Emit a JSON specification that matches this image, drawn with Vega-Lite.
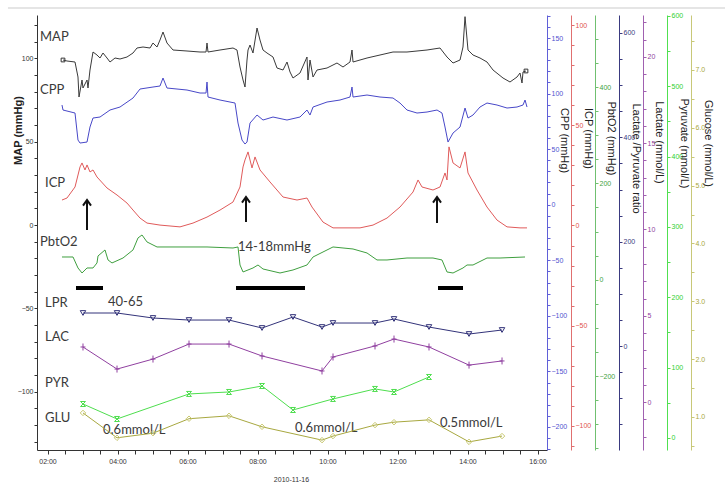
{
"$schema": "https://vega.github.io/schema/vega-lite/v6.json",
"width": 510, "height": 435,
"autosize": {"type": "none"},
"padding": {"left": 37, "top": 15, "right": 178, "bottom": 44},
"background": "white",
"config": {"view": {"stroke": null}, "axis": {"grid": false, "labelFont": "Liberation Sans Narrow, Liberation Sans", "labelFontSize": 7, "titleFont": "Liberation Sans", "titleFontSize": 11, "titleFontWeight": "normal", "titleColor": "#222", "labelOverlap": false, "labelFlush": false, "tickSize": 3, "labelPadding": 1}},
"datasets": {
"map": [{"h":2.443,"v":99.0},{"h":2.557,"v":98.4},{"h":2.786,"v":97.8},{"h":2.871,"v":88.8},{"h":2.9,"v":76.8},{"h":2.986,"v":87.0},{"h":3.014,"v":82.2},{"h":3.129,"v":87.0},{"h":3.157,"v":82.2},{"h":3.214,"v":93.0},{"h":3.3,"v":103.8},{"h":3.414,"v":102.0},{"h":3.5,"v":100.2},{"h":3.586,"v":103.2},{"h":3.7,"v":100.2},{"h":3.786,"v":97.8},{"h":3.929,"v":100.2},{"h":4.071,"v":99.6},{"h":4.271,"v":100.8},{"h":4.443,"v":103.2},{"h":4.557,"v":106.2},{"h":4.729,"v":106.8},{"h":4.929,"v":106.2},{"h":5.014,"v":109.2},{"h":5.129,"v":106.8},{"h":5.214,"v":111.0},{"h":5.3,"v":115.8},{"h":5.414,"v":109.2},{"h":5.586,"v":105.0},{"h":5.986,"v":104.4},{"h":6.357,"v":103.8},{"h":6.529,"v":103.8},{"h":6.557,"v":109.2},{"h":6.586,"v":103.8},{"h":6.929,"v":105.0},{"h":7.3,"v":106.2},{"h":7.414,"v":105.0},{"h":7.5,"v":94.8},{"h":7.586,"v":87.0},{"h":7.643,"v":82.8},{"h":7.7,"v":99.0},{"h":7.729,"v":105.0},{"h":7.786,"v":108.0},{"h":7.871,"v":103.2},{"h":7.986,"v":118.2},{"h":8.071,"v":111.0},{"h":8.157,"v":105.0},{"h":8.271,"v":103.2},{"h":8.443,"v":100.8},{"h":8.557,"v":94.2},{"h":8.729,"v":93.0},{"h":8.843,"v":97.8},{"h":8.929,"v":91.8},{"h":9.014,"v":88.2},{"h":9.214,"v":91.2},{"h":9.414,"v":100.8},{"h":9.443,"v":87.0},{"h":9.5,"v":99.0},{"h":9.586,"v":88.8},{"h":9.7,"v":93.0},{"h":9.986,"v":94.2},{"h":10.271,"v":97.2},{"h":10.443,"v":94.8},{"h":10.643,"v":97.8},{"h":10.7,"v":105.0},{"h":10.729,"v":97.8},{"h":11.129,"v":100.2},{"h":11.5,"v":102.0},{"h":11.871,"v":103.8},{"h":12.271,"v":103.8},{"h":12.843,"v":105.0},{"h":13.214,"v":106.2},{"h":13.414,"v":100.8},{"h":13.586,"v":97.2},{"h":13.786,"v":99.0},{"h":13.871,"v":106.8},{"h":13.929,"v":125.0},{"h":14.014,"v":105.0},{"h":14.157,"v":102.0},{"h":14.357,"v":100.2},{"h":14.557,"v":97.8},{"h":14.729,"v":93.0},{"h":15.014,"v":88.2},{"h":15.214,"v":85.8},{"h":15.414,"v":88.8},{"h":15.5,"v":91.2},{"h":15.557,"v":85.2},{"h":15.586,"v":91.8},{"h":15.671,"v":92.4}],
"mapends": [{"h":2.443,"v":99.0},{"h":15.671,"v":92.4}],
"frame": [{"h":0.87,"h2":21.4,"v":130.2}],
"cpp": [{"h":2.414,"v":89.7},{"h":2.443,"v":85.2},{"h":2.786,"v":82.5},{"h":2.871,"v":58.2},{"h":2.929,"v":55.5},{"h":3.129,"v":56.4},{"h":3.214,"v":69.9},{"h":3.3,"v":78.0},{"h":3.5,"v":78.9},{"h":3.786,"v":85.2},{"h":4.071,"v":87.9},{"h":4.443,"v":96.0},{"h":4.643,"v":104.1},{"h":5.014,"v":105.9},{"h":5.214,"v":106.8},{"h":5.3,"v":114.0},{"h":5.414,"v":105.0},{"h":5.986,"v":103.2},{"h":6.357,"v":100.5},{"h":6.529,"v":100.5},{"h":6.557,"v":110.4},{"h":6.586,"v":96.9},{"h":6.929,"v":94.2},{"h":7.357,"v":91.5},{"h":7.443,"v":73.5},{"h":7.557,"v":58.2},{"h":7.643,"v":54.6},{"h":7.7,"v":56.4},{"h":7.786,"v":73.5},{"h":7.986,"v":80.7},{"h":8.157,"v":76.2},{"h":8.443,"v":78.9},{"h":8.843,"v":76.2},{"h":9.214,"v":78.9},{"h":9.414,"v":85.2},{"h":9.5,"v":80.7},{"h":9.586,"v":87.9},{"h":9.986,"v":92.4},{"h":10.357,"v":94.2},{"h":10.643,"v":96.9},{"h":10.7,"v":105.9},{"h":10.729,"v":96.9},{"h":11.129,"v":98.7},{"h":11.5,"v":96.9},{"h":11.871,"v":96.0},{"h":12.071,"v":91.5},{"h":12.271,"v":85.2},{"h":12.557,"v":82.5},{"h":12.843,"v":83.4},{"h":13.129,"v":85.2},{"h":13.271,"v":82.5},{"h":13.357,"v":69.9},{"h":13.443,"v":56.4},{"h":13.586,"v":64.5},{"h":13.786,"v":69.9},{"h":13.929,"v":87.0},{"h":14.014,"v":78.0},{"h":14.157,"v":80.7},{"h":14.357,"v":87.9},{"h":14.557,"v":91.5},{"h":14.843,"v":89.7},{"h":15.129,"v":87.0},{"h":15.414,"v":87.9},{"h":15.586,"v":89.7},{"h":15.643,"v":94.2},{"h":15.7,"v":87.9}],
"icp": [{"h":2.414,"v":12.7},{"h":2.557,"v":13.7},{"h":2.786,"v":19.2},{"h":2.929,"v":29.2},{"h":2.986,"v":31.2},{"h":3.071,"v":27.7},{"h":3.129,"v":30.2},{"h":3.214,"v":26.7},{"h":3.3,"v":27.7},{"h":3.414,"v":24.2},{"h":3.7,"v":18.7},{"h":3.986,"v":15.2},{"h":4.271,"v":11.2},{"h":4.443,"v":7.7},{"h":4.643,"v":3.7},{"h":4.843,"v":1.2},{"h":5.214,"v":0.2},{"h":5.786,"v":-0.7},{"h":6.157,"v":1.2},{"h":6.557,"v":4.2},{"h":6.929,"v":7.7},{"h":7.3,"v":11.7},{"h":7.5,"v":19.2},{"h":7.586,"v":29.2},{"h":7.643,"v":32.7},{"h":7.729,"v":36.7},{"h":7.843,"v":28.7},{"h":7.929,"v":34.2},{"h":8.071,"v":27.7},{"h":8.357,"v":21.7},{"h":8.729,"v":14.2},{"h":9.129,"v":12.7},{"h":9.414,"v":13.7},{"h":9.557,"v":9.2},{"h":9.871,"v":1.7},{"h":10.157,"v":-1.2},{"h":10.929,"v":-1.2},{"h":11.3,"v":0.2},{"h":11.7,"v":3.7},{"h":12.071,"v":9.2},{"h":12.443,"v":16.7},{"h":12.586,"v":22.7},{"h":12.7,"v":19.2},{"h":13.014,"v":17.7},{"h":13.214,"v":19.2},{"h":13.357,"v":26.2},{"h":13.414,"v":22.7},{"h":13.471,"v":39.2},{"h":13.586,"v":31.2},{"h":13.786,"v":28.7},{"h":13.929,"v":36.7},{"h":14.014,"v":26.2},{"h":14.271,"v":17.7},{"h":14.557,"v":9.2},{"h":14.843,"v":2.7},{"h":15.129,"v":-0.7},{"h":15.5,"v":-1.2},{"h":15.7,"v":-1.2}],
"pbto2": [{"h":2.414,"v":47.1},{"h":2.729,"v":47.1},{"h":2.871,"v":24.3},{"h":2.986,"v":13.9},{"h":3.129,"v":24.3},{"h":3.3,"v":24.3},{"h":3.414,"v":34.7},{"h":3.443,"v":49.2},{"h":3.643,"v":61.7},{"h":3.729,"v":40.9},{"h":3.843,"v":34.7},{"h":4.157,"v":45.0},{"h":4.443,"v":61.7},{"h":4.586,"v":86.6},{"h":4.7,"v":92.8},{"h":4.843,"v":78.3},{"h":5.129,"v":67.9},{"h":5.586,"v":67.9},{"h":6.557,"v":67.9},{"h":7.3,"v":65.8},{"h":7.443,"v":67.9},{"h":7.5,"v":30.5},{"h":7.586,"v":16.0},{"h":7.871,"v":24.3},{"h":8.014,"v":30.5},{"h":8.157,"v":22.2},{"h":8.643,"v":13.9},{"h":9.014,"v":20.1},{"h":9.414,"v":30.5},{"h":9.586,"v":47.1},{"h":10.157,"v":67.9},{"h":10.729,"v":63.7},{"h":11.129,"v":55.4},{"h":11.414,"v":40.9},{"h":11.7,"v":40.9},{"h":12.271,"v":45.0},{"h":13.014,"v":45.0},{"h":13.271,"v":40.9},{"h":13.414,"v":16.0},{"h":13.586,"v":13.9},{"h":13.871,"v":24.3},{"h":13.986,"v":30.5},{"h":14.157,"v":30.5},{"h":14.557,"v":45.0},{"h":14.929,"v":45.0},{"h":15.643,"v":47.1}],
"lpr": [{"h":3.014,"v":63.3},{"h":3.986,"v":63.3},{"h":5.014,"v":53.7},{"h":6.043,"v":49.8},{"h":7.186,"v":49.8},{"h":8.129,"v":34.5},{"h":9.014,"v":55.6},{"h":9.843,"v":36.4},{"h":10.157,"v":44.1},{"h":11.357,"v":44.1},{"h":11.9,"v":51.8},{"h":12.9,"v":36.4},{"h":14.043,"v":23.0},{"h":14.986,"v":30.7}],
"lac": [{"h":3.014,"v":3.19},{"h":3.986,"v":1.91},{"h":5.014,"v":2.49},{"h":6.043,"v":3.36},{"h":7.186,"v":3.36},{"h":8.129,"v":2.67},{"h":9.843,"v":1.80},{"h":10.157,"v":2.61},{"h":11.357,"v":3.25},{"h":11.9,"v":3.65},{"h":12.9,"v":3.19},{"h":14.043,"v":2.14},{"h":14.986,"v":2.38}],
"pyr": [{"h":3.014,"v":48.3},{"h":3.986,"v":27.0},{"h":6.043,"v":62.6},{"h":7.186,"v":65.4},{"h":8.129,"v":73.9},{"h":9.014,"v":39.8},{"h":10.157,"v":55.5},{"h":11.357,"v":69.7},{"h":11.9,"v":65.4},{"h":12.9,"v":86.7}],
"glu": [{"h":3.014,"v":1.07},{"h":3.986,"v":0.64},{"h":5.014,"v":0.72},{"h":6.043,"v":0.97},{"h":7.186,"v":1.02},{"h":8.129,"v":0.83},{"h":9.843,"v":0.60},{"h":10.157,"v":0.67},{"h":11.357,"v":0.86},{"h":11.9,"v":0.91},{"h":12.9,"v":0.95},{"h":14.043,"v":0.57},{"h":14.986,"v":0.67}],
"labels": [{"h":1.786,"v":112.8,"t":"MAP"},{"h":1.786,"v":81.0,"t":"CPP"},{"h":1.929,"v":25.2,"t":"ICP"},{"h":1.786,"v":-10.2,"t":"PbtO2"},{"h":1.929,"v":-46.8,"t":"LPR"},{"h":3.729,"v":-46.2,"t":"40-65"},{"h":1.929,"v":-67.2,"t":"LAC"},{"h":1.929,"v":-94.8,"t":"PYR"},{"h":1.929,"v":-115.8,"t":"GLU"},{"h":3.586,"v":-123.0,"t":"0.6mmol/L"},{"h":7.443,"v":-13.2,"t":"14-18mmHg"},{"h":9.071,"v":-121.8,"t":"0.6mmol/L"},{"h":13.214,"v":-118.8,"t":"0.5mmol/L"}],
"bars": [{"h":2.814,"h2":3.586,"v":-37.8},{"h":7.386,"h2":9.357,"v":-37.8},{"h":13.157,"h2":13.871,"v":-37.8}],
"arrows": [{"h":3.129,"v":-3.0,"v2":15.0},{"h":7.671,"v":1.8,"v2":16.8},{"h":13.129,"v":1.2,"v2":16.8}]
},
"encoding": {"x": {"field": "h", "type": "quantitative", "scale": {"domain": [1.7, 16.271], "nice": false, "zero": false},
  "axis": {"values": [2,2.5,3,3.5,4,4.5,5,5.5,6,6.5,7,7.5,8,8.5,9,9.5,10,10.5,11,11.5,12,12.5,13,13.5,14,14.5,15,15.5,16],
   "labelExpr": "datum.value % 2 == 0 ? (datum.value < 10 ? '0' : '') + datum.value + ':00' : ''",
   "domainColor": "#333", "tickColor": "#333", "labelColor": "#333", "tickSize": 4, "labelPadding": 3,
   "title": "2010-11-16", "titleFontSize": 7, "titleFont": "Liberation Sans Narrow, Liberation Sans", "titleX": 254, "titleY": 25, "titleAlign": "center", "titleColor": "#333"}}},
"layer": [
  {"data": {"name": "map"}, "mark": {"type": "line", "color": "#3a3a3a", "strokeWidth": 1},
   "encoding": {"y": {"field": "v", "type": "quantitative", "scale": {"domain": [-135, 126], "nice": false, "zero": false},
    "axis": {"orient": "left", "values": [-130,-120,-110,-100,-90,-80,-70,-60,-50,-40,-30,-20,-10,0,10,20,30,40,50,60,70,80,90,100,110,120],
     "labelExpr": "datum.value % 50 == 0 ? datum.label : ''", "domainColor": "#333", "tickColor": "#333", "labelColor": "#333",
     "title": "MAP (mmHg)", "titleFontWeight": "bold", "titleX": -19, "titleY": 115, "titleAngle": -90, "titleAlign": "center", "titleBaseline": "middle"}}}},
  {"data": {"name": "frame"}, "mark": {"type": "rule", "color": "#dcdcdc", "strokeWidth": 1.5},
   "encoding": {"x2": {"field": "h2"}, "y": {"field": "v", "type": "quantitative", "scale": {"domain": [-135, 126], "nice": false, "zero": false}, "axis": null}}},
  {"data": {"name": "mapends"}, "mark": {"type": "point", "shape": "square", "filled": false, "size": 14, "color": "#333", "opacity": 1, "strokeWidth": 1},
   "encoding": {"y": {"field": "v", "type": "quantitative", "scale": {"domain": [-135, 126], "nice": false, "zero": false}, "axis": null}}},
  {"data": {"name": "labels"}, "mark": {"type": "text", "align": "left", "baseline": "middle", "font": "Lato", "fontSize": 13, "color": "#3a3a3a"},
   "encoding": {"y": {"field": "v", "type": "quantitative", "scale": {"domain": [-135, 126], "nice": false, "zero": false}, "axis": null}, "text": {"field": "t"}}},
  {"data": {"name": "bars"}, "mark": {"type": "rule", "color": "#000", "strokeWidth": 4},
   "encoding": {"x2": {"field": "h2"}, "y": {"field": "v", "type": "quantitative", "scale": {"domain": [-135, 126], "nice": false, "zero": false}, "axis": null}}},
  {"data": {"name": "arrows"}, "mark": {"type": "rule", "color": "#111", "strokeWidth": 2},
   "encoding": {"y": {"field": "v", "type": "quantitative", "scale": {"domain": [-135, 126], "nice": false, "zero": false}, "axis": null}, "y2": {"field": "v2"}}},
  {"data": {"name": "arrows"}, "mark": {"type": "point", "shape": "M-1,1.4L0,0L1,1.4", "filled": false, "size": 64, "color": "#111", "strokeWidth": 2, "opacity": 1},
   "encoding": {"y": {"field": "v2", "type": "quantitative", "scale": {"domain": [-135, 126], "nice": false, "zero": false}, "axis": null}}},
 {"data": {"name": "cpp"}, "mark": {"type": "line", "color": "#4848c8", "strokeWidth": 1},
  "encoding": {"y": {"field": "v", "type": "quantitative", "scale": {"domain": [-220.7, 170.7], "nice": false, "zero": false},
   "axis": {"orient": "right", "offset": 0, "values": [-220,-210,-200,-190,-180,-170,-160,-150,-140,-130,-120,-110,-100,-90,-80,-70,-60,-50,-40,-30,-20,-10,0,10,20,30,40,50,60,70,80,90,100,110,120,130,140,150,160,170],
    "labelExpr": "datum.value % 50 == 0 ? datum.label : ''", "domainColor": "#6060d8", "tickColor": "#6060d8", "labelColor": "#5050d0",
    "title": "CPP (mmHg)", "titleX": 16, "titleY": 125, "titleAngle": 90, "titleAlign": "center", "titleBaseline": "middle"}}}},
 {"data": {"name": "icp"}, "mark": {"type": "line", "color": "#e05a5a", "strokeWidth": 1},
  "encoding": {"y": {"field": "v", "type": "quantitative", "scale": {"domain": [-112, 105], "nice": false, "zero": false},
   "axis": {"orient": "right", "offset": 24, "values": [-110,-100,-90,-80,-70,-60,-50,-40,-30,-20,-10,0,10,20,30,40,50,60,70,80,90,100],
    "labelExpr": "datum.value % 50 == 0 ? datum.label : ''", "domainColor": "#e07070", "tickColor": "#e07070", "labelColor": "#e05050",
    "title": "ICP (mmHg)", "titleX": 16, "titleY": 123, "titleAngle": 90, "titleAlign": "center", "titleBaseline": "middle"}}}},
 {"data": {"name": "pbto2"}, "mark": {"type": "line", "color": "#3f9f3f", "strokeWidth": 1},
  "encoding": {"y": {"field": "v", "type": "quantitative", "scale": {"domain": [-353.6, 549.5], "nice": false, "zero": false},
   "axis": {"orient": "right", "offset": 48, "values": [-350,-300,-250,-200,-150,-100,-50,0,50,100,150,200,250,300,350,400,450,500],
    "labelExpr": "datum.value % 200 == 0 ? datum.label : ''", "domainColor": "#70c070", "tickColor": "#70c070", "labelColor": "#3f9f3f",
    "title": "PbtO2 (mmHg)", "titleX": 15, "titleY": 123, "titleAngle": 90, "titleAlign": "center", "titleBaseline": "middle"}}}},
 {"data": {"name": "lpr"}, "mark": {"type": "line", "color": "#33337a", "strokeWidth": 1, "point": {"shape": "triangle-down", "filled": false, "size": 30, "color": "#33337a", "strokeWidth": 1}},
  "encoding": {"y": {"field": "v", "type": "quantitative", "scale": {"domain": [-199.3, 634.5], "nice": false, "zero": false},
   "axis": {"orient": "right", "offset": 72, "values": [-150,-100,-50,0,50,100,150,200,250,300,350,400,450,500,550,600],
    "labelExpr": "datum.value % 200 == 0 ? datum.label : ''", "domainColor": "#3a3a80", "tickColor": "#3a3a80", "labelColor": "#3a3a80",
    "title": "Lactate /Pyruvate ratio", "titleX": 16, "titleY": 143, "titleAngle": 90, "titleAlign": "center", "titleBaseline": "middle"}}}},
 {"data": {"name": "lac"}, "mark": {"type": "line", "color": "#9040a0", "strokeWidth": 1, "point": {"shape": "M-1,0L1,0M0,-1.4L0,1.4", "filled": false, "size": 25, "color": "#9040a0", "strokeWidth": 1}},
  "encoding": {"y": {"field": "v", "type": "quantitative", "scale": {"domain": [-2.78, 22.43], "nice": false, "zero": false},
   "axis": {"orient": "right", "offset": 96, "values": [-2,-1,0,1,2,3,4,5,6,7,8,9,10,11,12,13,14,15,16,17,18,19,20,21,22],
    "labelExpr": "datum.value % 5 == 0 ? datum.label : ''", "domainColor": "#a060b0", "tickColor": "#a060b0", "labelColor": "#9040a0",
    "title": "Lactate (mmol/L)", "titleX": 15, "titleY": 127, "titleAngle": 90, "titleAlign": "center", "titleBaseline": "middle"}}}},
 {"data": {"name": "pyr"}, "mark": {"type": "line", "color": "#4ede4e", "strokeWidth": 1, "point": {"shape": "M-1,-1L1,-1L-1,1L1,1Z", "filled": false, "size": 25, "color": "#4ede4e", "strokeWidth": 1}},
  "encoding": {"y": {"field": "v", "type": "quantitative", "scale": {"domain": [-17.1, 601.4], "nice": false, "zero": false},
   "axis": {"orient": "right", "offset": 120, "values": [0,50,100,150,200,250,300,350,400,450,500,550,600],
    "labelExpr": "datum.value % 100 == 0 ? datum.label : ''", "domainColor": "#50e050", "tickColor": "#50e050", "labelColor": "#30d030",
    "title": "Pyruvate (mmol/L)", "titleX": 16, "titleY": 128, "titleAngle": 90, "titleAlign": "center", "titleBaseline": "middle"}}}},
 {"data": {"name": "glu"}, "mark": {"type": "line", "color": "#a8a840", "strokeWidth": 1, "point": {"shape": "diamond", "filled": false, "size": 30, "color": "#c8c870", "strokeWidth": 1}},
  "encoding": {"y": {"field": "v", "type": "quantitative", "scale": {"domain": [0.429, 7.951], "nice": false, "zero": false},
   "axis": {"orient": "right", "offset": 144, "values": [0.5,1,1.5,2,2.5,3,3.5,4,4.5,5,5.5,6,6.5,7,7.5],
    "labelExpr": "datum.value % 1 == 0 ? datum.label : ''", "domainColor": "#c8c878", "tickColor": "#c8c878", "labelColor": "#a8a840",
    "title": "Glucose (mmol/L)", "titleX": 16, "titleY": 128, "titleAngle": 90, "titleAlign": "center", "titleBaseline": "middle"}}}}
],
"resolve": {"scale": {"y": "independent"}}
}
